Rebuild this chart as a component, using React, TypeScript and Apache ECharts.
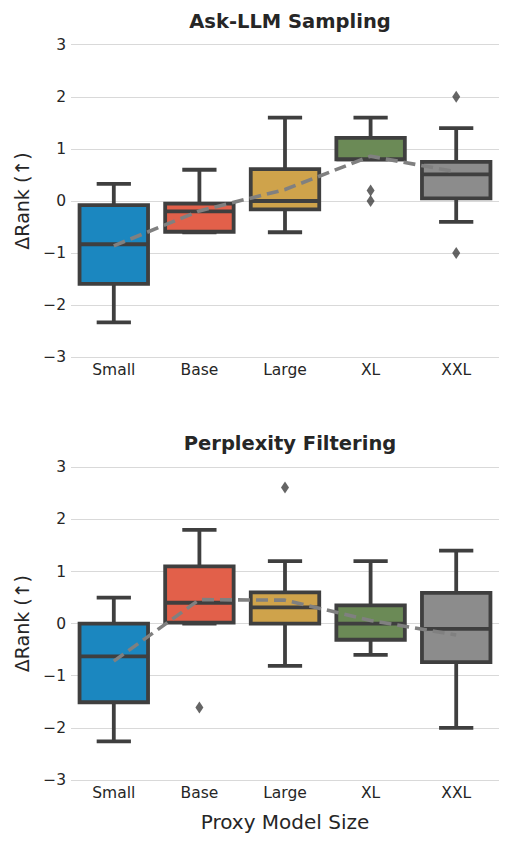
import React, { useEffect, useRef } from "react";
import * as echarts from "echarts";

const categories = ["Small", "Base", "Large", "XL", "XXL"];
const colors = ["#1b87c0", "#e2604a", "#cfa34b", "#6b8a56", "#8c8c8c"];

// [low whisker, Q1, median, Q3, high whisker]
const askBoxes = [
  [-2.33, -1.59, -0.83, -0.08, 0.33],
  [-0.6, -0.59, -0.2, -0.05, 0.6],
  [-0.6, -0.16, 0.0, 0.61, 1.6],
  [0.8, 0.8, 0.8, 1.21, 1.6],
  [-0.4, 0.05, 0.51, 0.75, 1.4],
];
const askOutliers = [
  [3, 0.2],
  [3, 0.0],
  [4, 2.0],
  [4, -1.0],
];
const askMeans = [-0.86, -0.19, 0.22, 0.86, 0.56];

const pplBoxes = [
  [-2.26, -1.51, -0.63, 0.0, 0.5],
  [0.0, 0.02, 0.4, 1.1, 1.8],
  [-0.81, 0.0, 0.31, 0.6, 1.2],
  [-0.6, -0.31, 0.0, 0.35, 1.2],
  [-2.0, -0.74, -0.1, 0.59, 1.4],
];
const pplOutliers = [
  [1, -1.61],
  [2, 2.61],
];
const pplMeans = [-0.72, 0.46, 0.45, 0.06, -0.22];

const yTicks = [-3, -2, -1, 0, 1, 2, 3];

const EDGE = "#3f3f3f";
const TEXT = "#262626";
const FONT = "DejaVu Sans";
const LW = 3.8;

function boxRender(params: any, api: any) {
  const x = api.value(0);
  const lo = api.coord([x, api.value(1)]);
  const q1 = api.coord([x, api.value(2)]);
  const med = api.coord([x, api.value(3)]);
  const q3 = api.coord([x, api.value(4)]);
  const hi = api.coord([x, api.value(5)]);
  const band = api.size([1, 0])[0];
  const bw = band * 0.8;
  const cw = band * 0.4;
  const cx = q1[0];
  const ls = { stroke: EDGE, lineWidth: LW };
  return {
    type: "group",
    children: [
      { type: "line", shape: { x1: cx, y1: q3[1], x2: cx, y2: hi[1] }, style: ls },
      { type: "line", shape: { x1: cx, y1: q1[1], x2: cx, y2: lo[1] }, style: ls },
      { type: "line", shape: { x1: cx - cw / 2, y1: hi[1], x2: cx + cw / 2, y2: hi[1] }, style: ls },
      { type: "line", shape: { x1: cx - cw / 2, y1: lo[1], x2: cx + cw / 2, y2: lo[1] }, style: ls },
      {
        type: "rect",
        shape: { x: cx - bw / 2, y: q3[1], width: bw, height: q1[1] - q3[1] },
        style: { fill: colors[params.dataIndex], stroke: EDGE, lineWidth: LW },
      },
      { type: "line", shape: { x1: cx - bw / 2, y1: med[1], x2: cx + bw / 2, y2: med[1] }, style: ls },
    ],
  };
}

export default function App() {
  const ref = useRef<HTMLDivElement>(null);
  useEffect(() => {
    document.body.style.margin = "0";
    const chart = echarts.init(ref.current!, null, { renderer: "svg" });
    const gridTops = [44.7, 467.3];
    const boxesSets = [askBoxes, pplBoxes];
    const outSets = [askOutliers, pplOutliers];
    const meanSets = [askMeans, pplMeans];
    const series: any[] = [];
    [0, 1].forEach((g) => {
      series.push({
        type: "custom",
        xAxisIndex: g,
        yAxisIndex: g,
        renderItem: boxRender,
        encode: { x: 0, y: [1, 2, 3, 4, 5] },
        data: boxesSets[g].map((b, i) => [i, ...b]),
        z: 2,
      });
      series.push({
        type: "line",
        xAxisIndex: g,
        yAxisIndex: g,
        data: meanSets[g].map((m, i) => [i, m]),
        symbol: "none",
        lineStyle: { color: "#808080", width: 3.6, type: [12, 6] },
        z: 3,
      });
      series.push({
        type: "scatter",
        xAxisIndex: g,
        yAxisIndex: g,
        data: outSets[g],
        symbol: "diamond",
        symbolSize: [8, 12],
        itemStyle: { color: EDGE },
        z: 4,
      });
    });
    chart.setOption({
      animation: false,
      backgroundColor: "#ffffff",
      textStyle: { fontFamily: FONT },
      title: [
        {
          text: "Ask-LLM Sampling",
          left: 285,
          top: 6,
          textAlign: "center",
          textStyle: { fontFamily: FONT, fontSize: 19.5, fontWeight: "bold", color: TEXT },
        },
        {
          text: "Perplexity Filtering",
          left: 285,
          top: 428,
          textAlign: "center",
          textStyle: { fontFamily: FONT, fontSize: 19.5, fontWeight: "bold", color: TEXT },
        },
      ],
      grid: gridTops.map((t) => ({ left: 71, right: 10, top: t, height: 312.6 })),
      xAxis: [0, 1].map((g) => ({
        type: "category",
        gridIndex: g,
        data: categories,
        boundaryGap: true,
        axisLine: { show: false },
        axisTick: { show: false },
        axisLabel: { color: TEXT, fontSize: 15.5, fontFamily: FONT, margin: 5 },
        name: g === 1 ? "Proxy Model Size" : "",
        nameLocation: "middle",
        nameGap: 32,
        nameTextStyle: { color: TEXT, fontSize: 20, fontFamily: FONT },
      })),
      yAxis: [0, 1].map((g) => ({
        type: "value",
        gridIndex: g,
        min: yTicks[0],
        max: yTicks[yTicks.length - 1],
        interval: 1,
        axisLine: { show: false },
        axisTick: { show: false },
        splitLine: { show: true, lineStyle: { color: "#d9d9d9", width: 1.2 } },
        axisLabel: {
          color: TEXT,
          fontSize: 15.5,
          fontFamily: FONT,
          margin: 5,
          formatter: (v: number) => (v < 0 ? "\u2212" + Math.abs(v) : String(v)),
        },
        name: "\u0394Rank (\u2191)",
        nameLocation: "middle",
        nameRotate: 90,
        nameGap: 40,
        nameTextStyle: { color: TEXT, fontSize: 19, fontFamily: FONT },
      })),
      series,
    });
    return () => chart.dispose();
  }, []);
  return <div ref={ref} style={{ width: 509, height: 843 }} />;
}
